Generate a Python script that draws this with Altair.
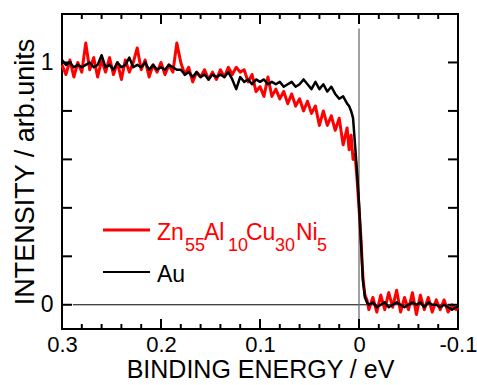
import altair as alt
import pandas as pd

# ---------------- data ----------------
energy = [0.300, 0.296, 0.292, 0.288, 0.284, 0.280, 0.276, 0.272, 0.268, 0.264,
          0.260, 0.256, 0.252, 0.248, 0.244, 0.240, 0.236, 0.232, 0.228, 0.224,
          0.220, 0.216, 0.212, 0.208, 0.204, 0.200, 0.196, 0.192, 0.188, 0.184,
          0.180, 0.176, 0.172, 0.168, 0.164, 0.160, 0.156, 0.152, 0.148, 0.144,
          0.140, 0.136, 0.132, 0.128, 0.124, 0.120, 0.116, 0.112, 0.108, 0.104,
          0.100, 0.096, 0.092, 0.088, 0.084, 0.080, 0.076, 0.072, 0.068, 0.064,
          0.060, 0.056, 0.052, 0.048, 0.044, 0.040, 0.036, 0.032, 0.028, 0.024,
          0.020, 0.016, 0.012, 0.010, 0.008, 0.006, 0.004, 0.002, 0.000, -0.002,
          -0.004, -0.006, -0.008, -0.010, -0.014, -0.018, -0.022, -0.026, -0.030, -0.034,
          -0.038, -0.042, -0.046, -0.050, -0.054, -0.058, -0.062, -0.066, -0.070, -0.074,
          -0.078, -0.082, -0.086, -0.090, -0.094, -0.098, -0.100]

au = [1.01, 0.99, 1.00, 0.98, 0.99, 0.98, 0.99, 1.00, 0.98, 0.99,
      1.03, 0.98, 0.99, 0.97, 1.00, 0.98, 0.99, 1.02, 0.98, 0.99,
      0.98, 1.00, 0.97, 0.99, 0.97, 0.98, 0.97, 0.99, 0.98, 0.97,
      0.97, 0.95, 0.96, 0.94, 0.96, 0.94, 0.95, 0.93, 0.95, 0.94,
      0.95, 0.94, 0.96, 0.93, 0.89, 0.94, 0.92, 0.93, 0.91, 0.93,
      0.92, 0.93, 0.91, 0.92, 0.91, 0.92, 0.90, 0.91, 0.92, 0.90,
      0.91, 0.93, 0.91, 0.89, 0.92, 0.89, 0.91, 0.88, 0.90, 0.87,
      0.85, 0.86, 0.83, 0.82, 0.80, 0.77, 0.66, 0.55, 0.42, 0.26,
      0.10, 0.03, 0.01, 0.00, 0.01, -0.01, 0.00, 0.01, -0.01, 0.00,
      0.01, 0.00, -0.01, 0.00, 0.01, 0.00, 0.01, -0.01, 0.01, 0.00,
      0.00, -0.01, 0.00, -0.01, -0.02, -0.01, -0.01]

alloy = [0.99, 0.95, 1.01, 0.94, 1.00, 0.96, 1.08, 0.97, 1.02, 0.94,
         1.01, 0.96, 1.02, 0.95, 1.00, 0.93, 1.01, 0.96, 1.00, 1.06,
         0.97, 1.01, 0.94, 0.99, 0.96, 1.00, 0.95, 0.99, 0.96, 1.08,
         1.00, 0.95, 0.98, 0.92, 0.96, 0.94, 0.97, 0.93, 0.96, 0.93,
         0.97, 0.94, 0.98, 0.95, 0.98, 0.96, 0.97, 0.92, 0.95, 0.88,
         0.90, 0.86, 0.94, 0.86, 0.89, 0.85, 0.88, 0.83, 0.87, 0.82,
         0.85, 0.80, 0.84, 0.79, 0.82, 0.74, 0.80, 0.74, 0.78, 0.72,
         0.77, 0.66, 0.73, 0.64, 0.70, 0.60, 0.62, 0.52, 0.40, 0.27,
         0.11, 0.04, 0.02, -0.02, 0.03, -0.03, 0.04, -0.02, 0.05, -0.01,
         0.06, -0.03, 0.03, -0.02, 0.05, -0.04, 0.04, -0.02, 0.03, -0.03,
         0.02, -0.02, 0.02, -0.03, 0.00, -0.02, -0.01]

x_label_values = [0.3, 0.2, 0.1, 0.0, -0.1]
x_major_ticks = [0.2, 0.1, 0.0]
x_minor_ticks = [0.28, 0.26, 0.24, 0.22, 0.18, 0.16, 0.14, 0.12,
                 0.08, 0.06, 0.04, 0.02, -0.02, -0.04, -0.06, -0.08]
y_label_values = [0, 1]
y_ticks = [0.0, 0.2, 0.4, 0.6, 0.8, 1.0]

X_MIN, X_MAX = -0.1, 0.3
Y_MIN, Y_MAX = -0.1, 1.2

FONT = "Liberation Sans"

# ---------------- shared encodings ----------------
xscale = alt.Scale(domain=[X_MIN, X_MAX], reverse=True, nice=False, zero=False)
yscale = alt.Scale(domain=[Y_MIN, Y_MAX], nice=False, zero=False)

xaxis = alt.Axis(values=x_label_values, title="BINDING ENERGY / eV", format="~g",
                 labelExpr="replace(datum.label, '\u2212', '-')",
                 ticks=False, tickSize=0, domain=False, grid=False,
                 labelPadding=5, titlePadding=2, labelFlush=False,
                 labelOverlap=False,
                 labelFont=FONT, labelFontSize=22, labelColor="black",
                 titleFont=FONT, titleFontSize=25, titleFontWeight="normal",
                 titleColor="black")
yaxis = alt.Axis(values=y_label_values, title="INTENSITY / arb.units", format="d",
                 ticks=False, tickSize=0, domain=False, grid=False,
                 labelPadding=9, titlePadding=1, labelOverlap=False,
                 labelFont=FONT, labelFontSize=23, labelColor="black",
                 titleFont=FONT, titleFontSize=27, titleFontWeight="normal",
                 titleColor="black")

def X(field="E"):
    return alt.X(f"{field}:Q", scale=xscale, axis=xaxis)

def Y(field="I"):
    return alt.Y(f"{field}:Q", scale=yscale, axis=yaxis)

df_au = pd.DataFrame({"E": energy, "I": au})
df_alloy = pd.DataFrame({"E": energy, "I": alloy})

line_alloy = alt.Chart(df_alloy).mark_line(color="#ff0000", strokeWidth=3,
                                           strokeJoin="round").encode(
    x=X(), y=Y(), order="E:Q")
line_au = alt.Chart(df_au).mark_line(color="#000000", strokeWidth=2.5,
                                     strokeJoin="round").encode(
    x=X(), y=Y(), order="E:Q")

# reference lines
zero_h = alt.Chart(pd.DataFrame({"E": [0.289], "E2": [X_MIN], "I": [0.0]})).mark_rule(
    color="black", strokeWidth=1).encode(x=X(), x2="E2:Q", y=Y())
zero_v = alt.Chart(pd.DataFrame({"E": [0.0], "I": [1.14], "I2": [Y_MIN]})).mark_rule(
    color="#6e6e6e", strokeWidth=1.3).encode(x=X(), y=Y(), y2="I2:Q")

# inward ticks (in data units)
XT_MAJ = 10 / 243
XT_MIN = 5 / 243
YT = 10 / 990
rows = []
for v in x_major_ticks:
    rows.append({"E": v, "E2": v, "I": Y_MIN, "I2": Y_MIN + XT_MAJ})
    rows.append({"E": v, "E2": v, "I": Y_MAX, "I2": Y_MAX - XT_MAJ})
for v in x_minor_ticks:
    rows.append({"E": v, "E2": v, "I": Y_MIN, "I2": Y_MIN + XT_MIN})
    rows.append({"E": v, "E2": v, "I": Y_MAX, "I2": Y_MAX - XT_MIN})
for v in y_ticks:
    rows.append({"E": X_MAX, "E2": X_MAX - YT, "I": v, "I2": v})
    rows.append({"E": X_MIN, "E2": X_MIN + YT, "I": v, "I2": v})
ticks = alt.Chart(pd.DataFrame(rows)).mark_rule(color="black", strokeWidth=2).encode(
    x=X(), x2="E2:Q", y=Y(), y2="I2:Q")

# legend (annotation)
def txt(s, px, py, size, color):
    return alt.Chart().mark_text(align="left", baseline="alphabetic", font=FONT,
                                 fontSize=size, color=color).encode(
        x=alt.value(px), y=alt.value(py), text=alt.value(s))

leg_red = alt.Chart().mark_rule(color="#ff0000", strokeWidth=3).encode(
    x=alt.value(41), x2=alt.value(88), y=alt.value(216))
leg_blk = alt.Chart().mark_rule(color="black", strokeWidth=2).encode(
    x=alt.value(41), x2=alt.value(88), y=alt.value(258))

MAIN, SUB = 23, 18
red = "#ff0000"
legend_layers = [
    leg_red, leg_blk,
    txt("Zn", 95, 226, MAIN, red),
    txt("55", 123, 237, SUB, red),
    txt("Al", 142, 226, MAIN, red),
    txt("10", 166, 237, SUB, red),
    txt("Cu", 184, 226, MAIN, red),
    txt("30", 213, 237, SUB, red),
    txt("Ni", 234, 226, MAIN, red),
    txt("5", 255, 237, SUB, red),
    txt("Au", 95, 268, MAIN, "black"),
]

chart = alt.layer(
    zero_h, zero_v, line_alloy, line_au, ticks, *legend_layers
).properties(
    width=396, height=315,
    padding={"left": 62, "top": 14, "right": 19, "bottom": 56},
    autosize=alt.AutoSizeParams(type="none"),
    background="white",
).configure_view(
    stroke="black", strokeWidth=2
)

chart.save("out.html", embed_options={"renderer": "svg", "actions": False})
